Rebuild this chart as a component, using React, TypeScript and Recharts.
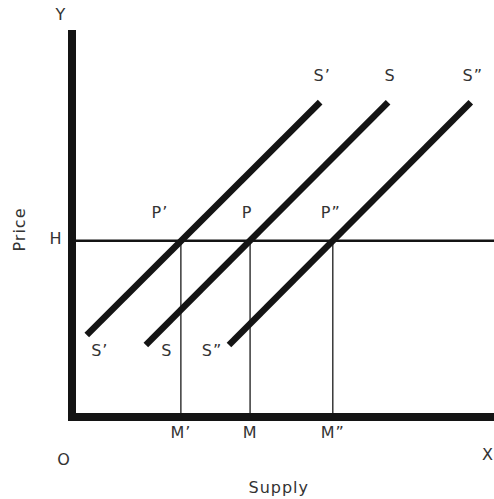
import React from 'react';
import {
  ComposedChart,
  Line,
  XAxis,
  YAxis,
  ReferenceLine,
  ReferenceDot,
  LabelList,
} from 'recharts';

// ---- data ----
const quantityTicks = [25.8, 42.2, 61.8]; // M', M, M''
const quantityLabels = ['M’', 'M', 'M”'];
const equilibriumLabels = ['P’', 'P', 'P”'];
const priceTicks = [46]; // H
const priceLabels = ['H'];
const supplyNames = ['S’', 'S', 'S”'];
const supplyLeft = [
  { q: 3.5, p: 21.4 },
  { q: 58.8, p: 82.2 },
];
const supplyMid = [
  { q: 17.5, p: 18.8 },
  { q: 74.9, p: 82.2 },
];
const supplyRight = [
  { q: 37.2, p: 18.8 },
  { q: 94.5, p: 82.2 },
];
const axisTitles = ['Supply', 'Price'];
const cornerLabels = ['Y', 'O', 'X'];

// ---- style ----
const FONT = 'DejaVu Sans';
const TEXT_COLOR = '#333';
const INK = '#141414';
const lowLabelOffset = [
  [13, 15],
  [21, 5],
  [-17, 5],
];
const highLabelOffset = [2, -27];
const pLabelOffset = [
  [-21, -29],
  [-3, -29],
  [-2, -29],
];

const Txt = ({ x, y, children, rotate }: any) => (
  <text
    x={x}
    y={y + 6}
    textAnchor="middle"
    fontFamily={FONT}
    fontSize={16}
    letterSpacing={1}
    fill={TEXT_COLOR}
    transform={rotate ? `rotate(${rotate}, ${x}, ${y + 6})` : undefined}
  >
    {children}
  </text>
);

const supplies = [supplyLeft, supplyMid, supplyRight];

const makeLineLabel = (si: number) => (props: any) => {
  const { x, y, index } = props;
  if (x == null || y == null) return null;
  const [dx, dy] = index === 0 ? lowLabelOffset[si] : highLabelOffset;
  return <Txt key={`sl-${si}-${index}`} x={x + dx} y={y + dy}>{supplyNames[si]}</Txt>;
};

const XTick = (props: any) => {
  const { x, y, index } = props;
  return <Txt x={x} y={y + 15}>{quantityLabels[index]}</Txt>;
};

const YTick = (props: any) => {
  const { x, y, index } = props;
  return <Txt x={x - 16} y={y - 3}>{priceLabels[index]}</Txt>;
};

export default function App() {
  return (
    <div style={{ position: 'absolute', left: 0, top: 0, background: '#fff' }}>
      <ComposedChart
        width={494}
        height={499}
        margin={{ top: 34, right: 0, bottom: 22, left: 12 }}
      >
        <XAxis
          type="number"
          dataKey="q"
          domain={[0, 100]}
          ticks={quantityTicks}
          height={60}
          tickSize={0}
          tickMargin={0}
          tickLine={false}
          tick={<XTick />}
          interval={0}
          allowDataOverflow
          axisLine={{ stroke: INK, strokeWidth: 8, strokeLinecap: 'square' }}
          label={{
            content: (p: any) => {
              const vb = p.viewBox;
              return <Txt x={vb.x + vb.width * 0.49} y={vb.y + 70}>{axisTitles[0]}</Txt>;
            },
          }}
        />
        <YAxis
          type="number"
          domain={[0, 100]}
          ticks={priceTicks}
          width={60}
          tickSize={0}
          tickMargin={0}
          tickLine={false}
          tick={<YTick />}
          interval={0}
          allowDataOverflow
          axisLine={{ stroke: INK, strokeWidth: 8, strokeLinecap: 'square' }}
          label={{
            content: (p: any) => {
              const vb = p.viewBox;
              return (
                <Txt x={vb.x + vb.width - 47} y={vb.y + vb.height / 2 - 2} rotate={-90}>
                  {axisTitles[1]}
                </Txt>
              );
            },
          }}
        />
        <ReferenceLine y={priceTicks[0]} stroke={INK} strokeWidth={2.4} />
        {quantityTicks.map((q, i) => (
          <ReferenceLine
            key={`m-${i}`}
            segment={[
              { x: q, y: 0 },
              { x: q, y: priceTicks[0] },
            ]}
            stroke="#2a2a2a"
            strokeWidth={1.4}
            label={{
              content: (p: any) => {
                const vb = p.viewBox;
                return (
                  <Txt x={vb.x + pLabelOffset[i][0]} y={vb.y + pLabelOffset[i][1]}>
                    {equilibriumLabels[i]}
                  </Txt>
                );
              },
            }}
          />
        ))}
        {supplies.map((d, si) => (
          <Line
            key={`s-${si}`}
            data={d}
            dataKey="p"
            type="linear"
            stroke={INK}
            strokeWidth={6.5}
            dot={false}
            activeDot={false}
            isAnimationActive={false}
          >
            <LabelList dataKey="p" content={makeLineLabel(si)} />
          </Line>
        ))}
        <ReferenceDot
          x={0}
          y={100}
          r={0}
          fill="none"
          stroke="none"
          label={{ content: (p: any) => <Txt x={p.viewBox.x - 11} y={p.viewBox.y - 20}>{cornerLabels[0]}</Txt> }}
        />
        <ReferenceDot
          x={0}
          y={0}
          r={0}
          fill="none"
          stroke="none"
          label={{ content: (p: any) => <Txt x={p.viewBox.x - 8} y={p.viewBox.y + 42}>{cornerLabels[1]}</Txt> }}
        />
        <ReferenceDot
          x={100}
          y={0}
          r={0}
          fill="none"
          stroke="none"
          label={{ content: (p: any) => <Txt x={p.viewBox.x - 6} y={p.viewBox.y + 37}>{cornerLabels[2]}</Txt> }}
        />
      </ComposedChart>
    </div>
  );
}
